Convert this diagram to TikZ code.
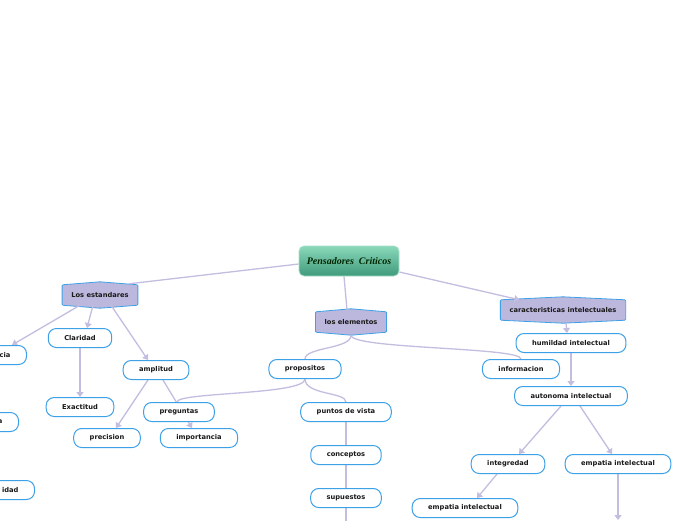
\documentclass[tikz,border=0pt]{standalone}
\usepackage{fontspec}
\setmainfont{DejaVu Sans}
\newfontfamily\titlefont{Liberation Serif}
\usepackage{tikz}
\usetikzlibrary{
    arrows.meta,
    backgrounds
}
\definecolor{linkcol}{HTML}{C3BDE0}
\definecolor{boxblue}{HTML}{3DA1E8}
\definecolor{hexfill}{HTML}{BCB7DC}
\definecolor{greentop}{HTML}{8AD8BA}
\definecolor{greenbot}{HTML}{3F9A7B}
\definecolor{greenline}{HTML}{A8E0CA}

% hexagon box: name, position, text
\newcommand{\hexnode}[3]{%
    \node [hexa] (#1) at (#2) {#3};
    \begin{pgfonlayer}{background}
    \filldraw [hexbg] (#1.north west) -- ([yshift=3pt]#1.north) -- (#1.north east)
        -- (#1.south east) -- ([yshift=-3pt]#1.south) -- (#1.south west) -- cycle;
    \end{pgfonlayer}}

\begin{document}
\begin{tikzpicture}[x=1pt,y=-1pt,>={Triangle[width=7pt,length=5pt]}]
    \tikzstyle{idea}=[draw=boxblue, line width=1pt, fill=white, rounded corners=8pt, minimum height=19pt, inner xsep=16pt, inner ysep=2pt, text=black!90, font=\fontsize{6.7}{8}\selectfont\bfseries]
    \tikzstyle{hexa}=[minimum height=20pt, inner xsep=9pt, text=black!90, font=\fontsize{6.7}{8}\selectfont\bfseries]
    \tikzstyle{hexbg}=[fill=hexfill, draw=boxblue, line width=0.8pt, rounded corners=1pt]
    \tikzstyle{cut}=[anchor=east, text width=40pt, align=right]
    \tikzstyle{link}=[draw=linkcol, line width=1.3pt]
    \useasboundingbox (0,0) rectangle (696,520);

    \node [draw=greenline, line width=0.8pt, rounded corners=5pt, top color=greentop, bottom color=greenbot, minimum width=100pt, minimum height=30pt, text=black!85!green, font=\titlefont\bfseries\itshape\fontsize{10}{12}\selectfont] (pc) at (349,261) {Pensadores\ \ Criticos};

    \hexnode{le}{100,295}{Los estandares}
    \node [idea, cut] (rel) at (27,355) {cia};
    \node [idea] (cla) at (80,338) {Claridad};
    \node [idea] (amp) at (156,370) {amplitud};
    \node [idea] (exa) at (80,407) {Exactitud};
    \node [idea, cut] (a) at (19,422) {a};
    \node [idea] (prec) at (107,438) {precision};
    \node [idea] (imp) at (199,438) {importancia};
    \node [idea, cut] (idad) at (35,490) {idad};

    \hexnode{el}{351,322}{los elementos}
    \node [idea] (prop) at (305,369) {propositos};
    \node [idea] (info) at (521,369) {informacion};
    \node [idea] (pre) at (179,412) {preguntas};
    \node [idea] (pv) at (346,412) {puntos de vista};
    \node [idea] (con) at (346,455) {conceptos};
    \node [idea] (sup) at (346,498) {supuestos};

    \hexnode{ci}{563,310}{caracteristicas intelectuales}
    \node [idea] (hum) at (571,343) {humildad intelectual};
    \node [idea] (aut) at (571,396) {autonoma intelectual};
    \node [idea] (integ) at (508,464) {integredad};
    \node [idea] (empR) at (618,464) {empatia intelectual};
    \node [idea] (empL) at (465,508) {empatia intelectual};

    \coordinate (supdown) at (346,530);
    \coordinate (empdown) at (618,520);

    \begin{scope}[on background layer]
    \draw [link] ([yshift=-3pt]pc.west) -- ([xshift=-9pt,yshift=1pt]le.north east);
    \draw [link] ([xshift=-5pt]pc.south) -- ([xshift=-4pt,yshift=2pt]el.north);
    \draw [link,->] ([yshift=-11pt]pc.east) -- ([xshift=19pt]ci.north west);

    \draw [link,->] ([xshift=-20pt]le.south) -- ([xshift=-15pt]rel.north east);
    \draw [link,->] ([xshift=-7pt]le.south) -- ([xshift=7pt]cla.north);
    \draw [link,->] ([xshift=11pt]le.south) -- ([xshift=-8pt]amp.north);
    \draw [link,->] (cla.south) -- (exa.north);
    \draw [link,->] ([xshift=-8pt]amp.south) -- ([xshift=9pt]prec.north);
    \draw [link,->] ([xshift=7pt]amp.south) -- ([xshift=-7pt]imp.north);

    \draw [link] ([yshift=-3pt]el.south) .. controls +(0,14) and +(0,-12) .. (prop.north);
    \draw [link] ([yshift=-3pt]el.south) .. controls +(0,14) and +(0,-12) .. (info.north);
    \draw [link] (prop.south) .. controls +(0,16) and +(0,-10) .. ([xshift=-2pt]pre.north);
    \draw [link] (prop.south) .. controls +(0,16) and +(0,-10) .. (pv.north);
    \draw [link] (pv.south) -- (con.north);
    \draw [link] (con.south) -- (sup.north);
    \draw [link] (sup.south) -- (supdown);

    \draw [link,->] ([xshift=3pt,yshift=-3pt]ci.south) -- ([xshift=-4pt]hum.north);
    \draw [link,->] (hum.south) -- (aut.north);
    \draw [link,->] ([xshift=-10pt]aut.south) -- ([xshift=11pt]integ.north);
    \draw [link,->] ([xshift=9pt]aut.south) -- ([xshift=-6pt]empR.north);
    \draw [link,->] ([xshift=-11pt]integ.south) -- ([xshift=12pt]empL.north);
    \draw [link,->] (empR.south) -- (empdown);
    \end{scope}
\end{tikzpicture}
\end{document}
